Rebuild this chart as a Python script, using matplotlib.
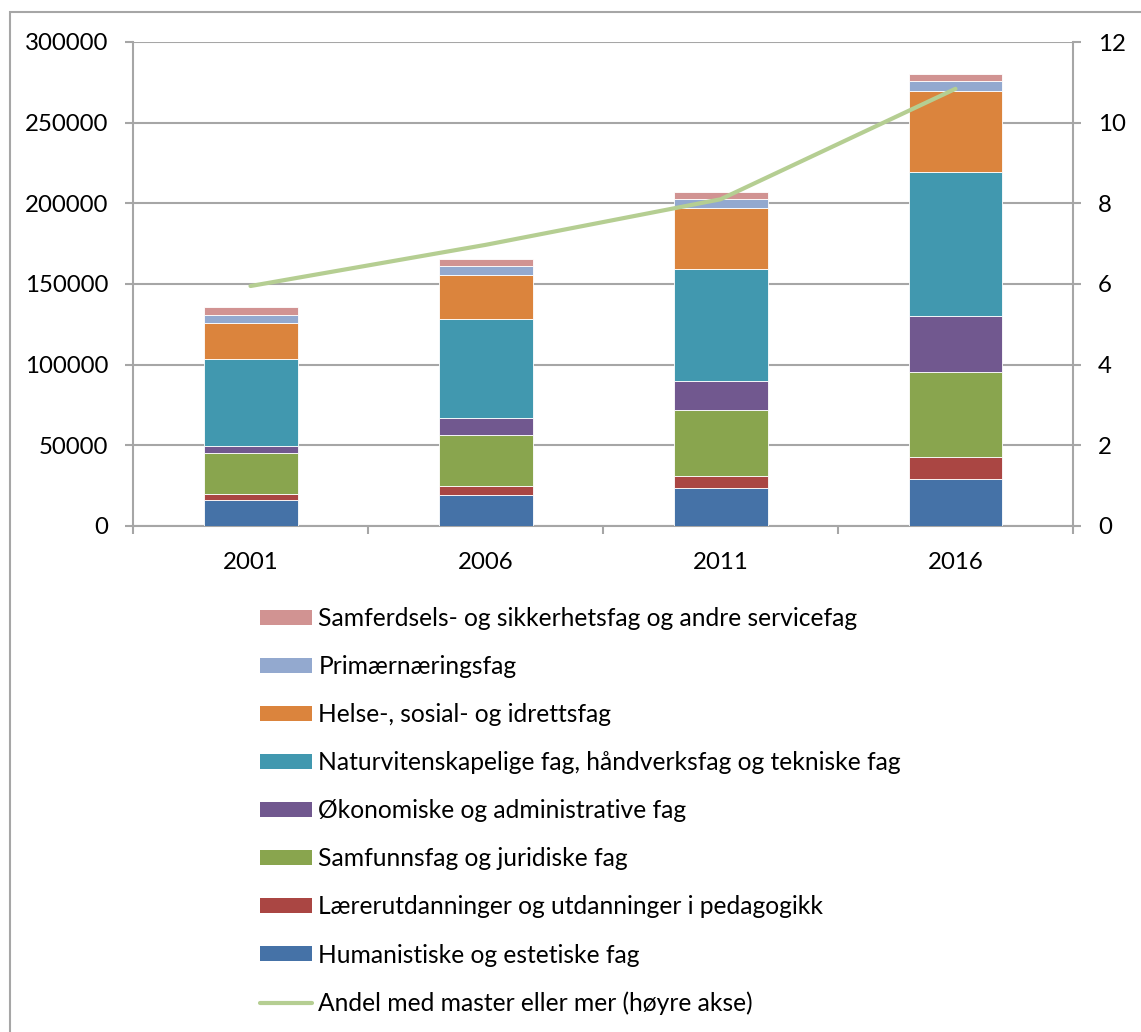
import matplotlib
matplotlib.use("Agg")
import matplotlib.pyplot as plt
from matplotlib.patches import Rectangle, Patch
from matplotlib.lines import Line2D
import numpy as np

plt.rcParams['font.family'] = ['Lato', 'DejaVu Sans']

years = ["2001", "2006", "2011", "2016"]
series_names = [
    "Humanistiske og estetiske fag",
    "Lærerutdanninger og utdanninger i pedagogikk",
    "Samfunnsfag og juridiske fag",
    "Økonomiske og administrative fag",
    "Naturvitenskapelige fag, håndverksfag og tekniske fag",
    "Helse-, sosial- og idrettsfag",
    "Primærnæringsfag",
    "Samferdsels- og sikkerhetsfag og andre servicefag",
]
humanistiske = [16400, 19500, 23600, 29400]
laerer = [3700, 5100, 7200, 13200]
samfunn = [25000, 31600, 41400, 53100]
okonomi = [4500, 10700, 17700, 34500]
naturvit = [54000, 61200, 69700, 89000]
helse = [22100, 27700, 37800, 50400]
primaer = [5200, 5350, 5150, 6200]
samferdsel = [4700, 4550, 4750, 4600]
andel_master = [5.95, 6.97, 8.1, 10.84]
line_label = "Andel med master eller mer (høyre akse)"

colors = ["#4572A7", "#AA4643", "#89A54E", "#71588F",
          "#4198AF", "#DB843D", "#93A9CF", "#D19392"]
line_color = "#B5CE92"
grid_color = "#A6A6A6"

values = [humanistiske, laerer, samfunn, okonomi, naturvit, helse, primaer, samferdsel]

W, H = 1141, 1032
fig = plt.figure(figsize=(W / 100, H / 100), dpi=100)
fig.patch.set_facecolor("white")

# outer chart frame
fig.add_artist(Rectangle((10 / W, -0.1), 1.2, 1 - 12 / H + 0.1, transform=fig.transFigure,
                         fill=False, edgecolor="#A6A6A6", linewidth=1.5))

left, right = 133 / W, 1073 / W
bottom, top = 1 - 526 / H, 1 - 42 / H
ax = fig.add_axes([left, bottom, right - left, top - bottom])
x = np.arange(1, len(years) + 1)
base = np.zeros(len(years))
for name, vals, c in zip(series_names, values, colors):
    ax.bar(x, vals, width=0.4, bottom=base, color=c, edgecolor="#FFFFFF",
           linewidth=0.6, label=name, zorder=3)
    base += np.array(vals)

fs = 17.3
ax.set_xlim(0.5, 4.5)
ax.set_ylim(0, 300000)
ax.set_yticks(np.arange(0, 300001, 50000))
ax.set_yticklabels([str(v) for v in range(0, 300001, 50000)])
ax.yaxis.grid(True, color=grid_color, linewidth=1.5)
ax.set_axisbelow(True)
ax.set_xticks(x)
ax.set_xticklabels(years)
ax.set_xticks(np.arange(0.5, 4.6, 1.0), minor=True)
ax.tick_params(axis="x", which="major", length=0, pad=19, labelsize=fs)
ax.tick_params(axis="x", which="minor", length=6, width=1.5, color=grid_color)
ax.tick_params(axis="y", length=6, width=1.5, color=grid_color, pad=12, labelsize=fs)
for s in ["top", "right"]:
    ax.spines[s].set_visible(False)
for s in ["left", "bottom"]:
    ax.spines[s].set_color(grid_color)
    ax.spines[s].set_linewidth(1.5)

ax2 = ax.twinx()
ax2.plot(x, andel_master, color=line_color, linewidth=3, solid_capstyle="round", zorder=5)
ax2.set_ylim(0, 12)
ax2.set_yticks(np.arange(0, 13, 2))
ax2.tick_params(axis="y", length=6, width=1.5, color=grid_color, pad=12, labelsize=fs)
for s in ["top", "left", "bottom"]:
    ax2.spines[s].set_visible(False)
ax2.spines["right"].set_color(grid_color)
ax2.spines["right"].set_linewidth(1.5)

handles = [Patch(facecolor=c, edgecolor="none") for c in colors[::-1]]
handles.append(Line2D([0], [0], color=line_color, linewidth=3, solid_capstyle="round"))
labels = series_names[::-1] + [line_label]
fig.legend(handles, labels, loc="upper left", bbox_to_anchor=(260 / W, 1 - 607 / H),
           frameon=False, fontsize=17.7, borderpad=0, borderaxespad=0,
           handlelength=2.12, handleheight=0.57, handletextpad=0.25, labelspacing=1.02)

fig.savefig("out.png", dpi=100)
